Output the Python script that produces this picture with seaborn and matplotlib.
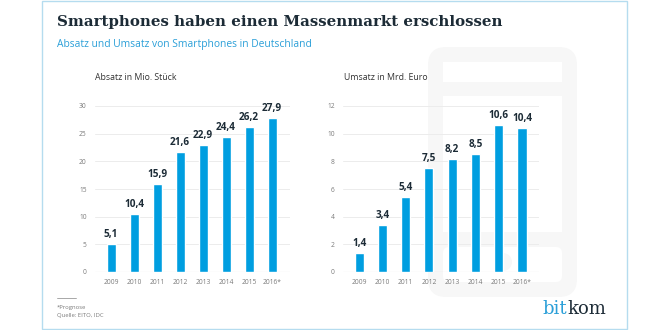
import matplotlib
matplotlib.use("Agg")
import matplotlib.pyplot as plt
from matplotlib.patches import Rectangle, FancyBboxPatch, Circle
import seaborn as sns

years = ["2009", "2010", "2011", "2012", "2013", "2014", "2015", "2016*"]
absatz = [5.1, 10.4, 15.9, 21.6, 22.9, 24.4, 26.2, 27.9]
umsatz = [1.4, 3.4, 5.4, 7.5, 8.2, 8.5, 10.6, 10.4]
absatz_ticks = [0, 5, 10, 15, 20, 25, 30]
umsatz_ticks = [0, 2, 4, 6, 8, 10, 12]

title = "Smartphones haben einen Massenmarkt erschlossen"
subtitle = "Absatz und Umsatz von Smartphones in Deutschland"
left_label = "Absatz in Mio. Stück"
right_label = "Umsatz in Mrd. Euro"

BLUE = "#009ee0"
DARK = "#1c2b36"
SUB_BLUE = "#2a9fd8"
GREY_TXT = "#7a7a7a"
PHONE = "#f7f7f7"

sns.set_style("white")
plt.rcParams["font.family"] = ["Open Sans", "DejaVu Sans"]

W, H = 660, 330
fig = plt.figure(figsize=(W / 100, H / 100), dpi=100)
fig.patch.set_facecolor("white")

# background layer in pixel coordinates: frame, phone silhouette, texts
bg = fig.add_axes([0, 0, 1, 1], zorder=0)
bg.set_xlim(0, W)
bg.set_ylim(H, 0)
bg.axis("off")

bg.add_patch(Rectangle((42, 0.5), 585, 328.5, fill=False, edgecolor="#b5dcef", lw=1.0))

# phone outline
bg.add_patch(FancyBboxPatch((443, 62), 119, 220, boxstyle="round,pad=15,rounding_size=18",
                            facecolor=PHONE, edgecolor="none"))
bg.add_patch(Rectangle((443, 62), 119, 20, facecolor="white", edgecolor="none"))
bg.add_patch(Rectangle((443, 96), 119, 136, facecolor="white", edgecolor="none"))
bg.add_patch(FancyBboxPatch((443, 247), 119, 35, boxstyle="round,pad=0,rounding_size=6",
                            facecolor="white", edgecolor="none"))
bg.add_patch(Circle((503, 262), 9, facecolor=PHONE, edgecolor="none"))

bg.text(57, 22, title, family=["DejaVu Serif"], fontweight="bold", fontsize=10.8,
        color=DARK, ha="left", va="center")
bg.text(57, 44, subtitle, fontsize=7.4, color=SUB_BLUE, ha="left", va="center")
bg.text(95, 77, left_label, fontsize=6.3, color="#333333", ha="left", va="center")
bg.text(344, 77, right_label, fontsize=6.3, color="#333333", ha="left", va="center")

bg.plot([57, 76], [298, 298], color="#9a9a9a", lw=0.6)
bg.text(57, 308, "*Prognose", fontsize=4.2, color=GREY_TXT, ha="left", va="center")
bg.text(57, 316, "Quelle: EITO, IDC", fontsize=4.2, color=GREY_TXT, ha="left", va="center")

bg.text(567, 314, "bit", family=["DejaVu Serif"], fontsize=13, color=SUB_BLUE,
        ha="right", va="baseline")
bg.text(567, 314, "kom", family=["DejaVu Serif"], fontsize=13, color=DARK,
        ha="left", va="baseline")


def px_axes(x0, x1, y_top, y_bot):
    return fig.add_axes([x0 / W, (H - y_bot) / H, (x1 - x0) / W, (y_bot - y_top) / H], zorder=1)


def draw_panel(ax, values, ticks, xlim, px_per_unit):
    sns.barplot(x=years, y=values, ax=ax, color=BLUE, width=0.39, saturation=1)
    ax.set_facecolor("none")
    ax.set_ylim(ticks[0], ticks[-1])
    ax.set_xlim(*xlim)
    ax.set_yticks(ticks)
    ax.set_yticklabels([str(t) for t in ticks])
    ax.set_xlabel("")
    ax.set_ylabel("")
    for s in ax.spines.values():
        s.set_visible(False)
    ax.yaxis.grid(True, color="#ececec", lw=0.7)
    ax.set_axisbelow(True)
    ax.axhline(0, color="#cfcfcf", lw=0.8, zorder=0.5)
    ax.tick_params(axis="both", length=0, labelsize=4.8, labelcolor=GREY_TXT)
    ax.tick_params(axis="y", pad=6)
    ax.tick_params(axis="x", pad=5)
    off = 4 / px_per_unit
    for i, v in enumerate(values):
        ax.text(i, v + off, f"{v:.1f}".replace(".", ","), ha="center", va="bottom",
                fontsize=7.2, fontweight="bold", color=DARK)


ax1 = px_axes(95, 290, 106, 272)
draw_panel(ax1, absatz, absatz_ticks, (-0.7, 7.78), 166 / 30)

ax2 = px_axes(343, 539, 106, 272)
draw_panel(ax2, umsatz, umsatz_ticks, (-0.69, 7.73), 166 / 12)

fig.savefig("out.png", dpi=100, facecolor="white")
